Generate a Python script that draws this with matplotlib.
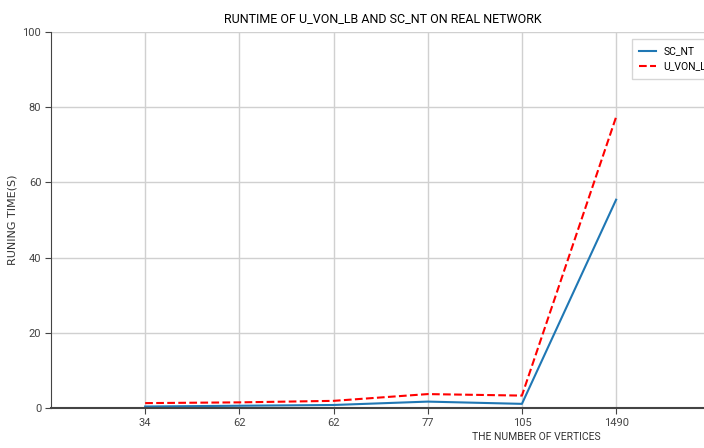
import matplotlib
matplotlib.use("Agg")
import matplotlib.pyplot as plt

vertices = ["34", "62", "62", "77", "105", "1490"]
sc_nt = [0.4, 0.6, 0.8, 1.7, 1.1, 55.4]
u_von_lb = [1.3, 1.5, 1.9, 3.7, 3.3, 77.4]

narrow = "Roboto"

fig = plt.figure(figsize=(7.04, 4.48), dpi=100)
ax = fig.add_axes([51/704, 40/448, (715-51)/704, (408-32)/448])

x = list(range(len(vertices)))
ax.plot(x, sc_nt, color="#1f77b4", lw=1.5, label="SC_NT")
ax.plot(x, u_von_lb, color="red", lw=1.5, ls="--", label="U_VON_LB")

ax.set_xlim(-1, 6.05)
ax.set_ylim(0, 100)
ax.set_xticks(x)
ax.set_xticklabels(vertices, family=narrow, fontsize=8, color="#333333")
ax.set_yticks([0, 20, 40, 60, 80, 100])
ax.set_yticklabels(["0", "20", "40", "60", "80", "100"], family=narrow, fontsize=8, color="#333333")
ax.grid(True, color="#d0d0d0", lw=1)
ax.set_axisbelow(True)
for s in ["top", "right"]:
    ax.spines[s].set_visible(False)
ax.spines["left"].set_color("#444444")
ax.spines["bottom"].set_color("#444444")
ax.spines["bottom"].set_linewidth(1.5)
ax.tick_params(colors="#444444", length=4, pad=3)

ax.set_title("RUNTIME OF U_VON_LB AND SC_NT ON REAL NETWORK", family=narrow, fontsize=9, pad=7)
ax.set_ylabel("RUNING TIME(S)", fontsize=8, color="#333333")
ax.yaxis.set_label_coords((18-51)/(715-51), 0.5)
ax.set_xlabel("THE NUMBER OF VERTICES", family=narrow, fontsize=7.5, color="#333333")
ax.xaxis.set_label_coords((536-51)/(715-51), -0.065)

leg = fig.legend(loc="upper left", bbox_to_anchor=(632/704, 1-39/448), prop={"family": narrow, "size": 7.5},
                 frameon=True, fancybox=False, edgecolor="#cccccc", borderaxespad=0,
                 handlelength=1.6, handletextpad=0.7, borderpad=0.7, labelspacing=0.5)
fig.savefig("out.png", dpi=100)
